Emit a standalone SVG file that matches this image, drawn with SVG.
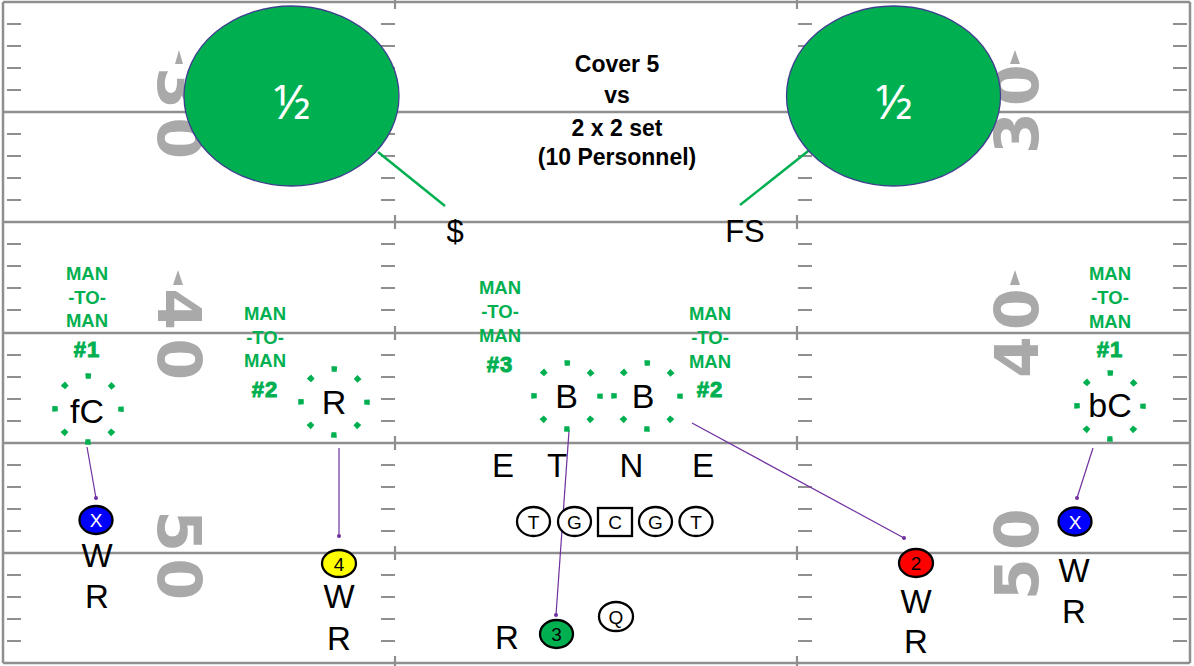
<svg xmlns="http://www.w3.org/2000/svg" xmlns:xlink="http://www.w3.org/1999/xlink" width="1194" height="666" viewBox="0 0 1194 666">
<style>
.fld{stroke:#8f8f8f;stroke-width:2.5;fill:none}
.hash{stroke:#8f8f8f;stroke-width:2.2;fill:none}
.num{font-family:"DejaVu Sans",sans-serif;font-weight:bold;font-size:60px;fill:#a9a9a9;text-anchor:middle}
.arw{fill:#a9a9a9}
.zone{fill:#00b050;stroke:#3f3f8f;stroke-width:1.3}
.half{font-family:"Noto Sans","Open Sans",sans-serif;font-size:48px;fill:#fff;text-anchor:middle}
.title{font-family:"Liberation Sans",Arial,sans-serif;font-weight:bold;font-size:23px;fill:#000;text-anchor:middle}
.lbl{font-family:"Liberation Sans",Arial,sans-serif;font-size:33px;fill:#000;text-anchor:middle}
.man{font-family:"Liberation Sans",Arial,sans-serif;font-weight:bold;font-size:18.5px;fill:#00b050;text-anchor:middle}
.hsh{font-family:"Liberation Sans",Arial,sans-serif;font-weight:bold;font-size:22px;fill:#00b050;stroke:#00b050;stroke-width:1;letter-spacing:1px;text-anchor:middle}
.dot{fill:none;stroke:#00b050;stroke-width:5.5;stroke-dasharray:5.5 20.42;stroke-dashoffset:2.75}
.pl{stroke:#000;stroke-width:2.3}
.pt{font-family:"Liberation Sans",Arial,sans-serif;font-size:19px;text-anchor:middle}
.con{stroke:#7030a0;stroke-width:1.2;fill:none;marker-end:url(#dotm)}
.gl{stroke:#00b050;stroke-width:2.5}
</style>
<defs>
<path id="hcol" d="M0 24H14M0 46H14M0 68H14M0 90H14M0 134H14M0 156H14M0 178H14M0 200H14M0 244H14M0 266H14M0 288H14M0 310H14M0 355H14M0 377H14M0 399H14M0 421H14M0 465H14M0 487H14M0 509H14M0 531H14M0 575H14M0 597H14M0 619H14M0 641H14"/>
<marker id="dotm" viewBox="0 0 6 6" refX="3" refY="3" markerWidth="4" markerHeight="4" markerUnits="userSpaceOnUse"><circle cx="3" cy="3" r="3" fill="#7030a0"/></marker>
</defs>
<rect width="1194" height="666" fill="#fff"/>
<g id="field">
<path class="fld" d="M3 2H1190M3 112H1190M3 222H1190M3 333H1190M3 443H1190M3 553H1190M3 663H1190M3 2V663M1190 2V663"/>
<path class="hash" d="M395 0V9M395 105V119M395 215V229M395 326V340M395 436V450M395 546V560M395 656V666M797 0V9M797 105V119M797 215V229M797 326V340M797 436V450M797 546V560M797 656V666"/>
<use href="#hcol" xlink:href="#hcol" x="7" class="hash"/>
<use href="#hcol" xlink:href="#hcol" x="381" class="hash"/>
<use href="#hcol" xlink:href="#hcol" x="798" class="hash"/>
<use href="#hcol" xlink:href="#hcol" x="1173" class="hash"/>
</g>
<g id="yard-numbers">
<g transform="translate(158,113) rotate(90)"><text class="num" x="-25">3</text><text class="num" x="25">0</text></g>
<g transform="translate(158,334) rotate(90)"><text class="num" x="-25">4</text><text class="num" x="25">0</text></g>
<g transform="translate(158,555) rotate(90)"><text class="num" x="-24">5</text><text class="num" x="24">0</text></g>
<g transform="translate(1038,109) rotate(-90)"><text class="num" x="-24">3</text><text class="num" x="24">0</text></g>
<g transform="translate(1038,333) rotate(-90)"><text class="num" x="-24">4</text><text class="num" x="24">0</text></g>
<g transform="translate(1038,554) rotate(-90)"><text class="num" x="-25">5</text><text class="num" x="25">0</text></g>
<polygon class="arw" points="179,50 183,64 175,64"/>
<polygon class="arw" points="178,270 183,285 173,285"/>
<polygon class="arw" points="1015,50 1020,64 1010,64"/>
<polygon class="arw" points="1015,270 1020,285 1010,285"/>
</g>
<g id="connectors">
<line class="gl" x1="378" y1="152" x2="445" y2="206"/>
<line class="gl" x1="740" y1="205" x2="812" y2="148"/>
<line class="con" x1="87" y1="447" x2="96" y2="498"/>
<line class="con" x1="339" y1="448" x2="339" y2="536"/>
<line class="con" x1="569" y1="431" x2="556" y2="615"/>
<line class="con" x1="692" y1="423" x2="904" y2="538"/>
<line class="con" x1="1093" y1="448" x2="1077" y2="498"/>
</g>
<g id="zone-left"><ellipse class="zone" cx="291.5" cy="96" rx="107.5" ry="90"/><text class="half" x="292" y="119">½</text></g>
<g id="zone-right"><ellipse class="zone" cx="893.5" cy="96" rx="107" ry="90"/><text class="half" x="894" y="119">½</text></g>
<g id="title">
<text class="title" x="617" y="72">Cover 5</text>
<text class="title" x="617" y="103">vs</text>
<text class="title" x="617" y="136">2 x 2 set</text>
<text class="title" x="617" y="165">(10 Personnel)</text>
</g>
<g id="safety-money"><text class="lbl" x="455" y="242" style="font-size:31px">$</text></g>
<g id="safety-fs"><text class="lbl" x="745" y="242" style="font-size:31px">FS</text></g>
<g id="man-1-left"><text class="man" x="87" y="280">MAN</text><text class="man" x="87" y="303.5">-TO-</text><text class="man" x="87" y="327">MAN</text><text class="hsh" x="87" y="357">#1</text></g>
<g id="man-2-left"><text class="man" x="265" y="320">MAN</text><text class="man" x="265" y="344">-TO-</text><text class="man" x="265" y="367">MAN</text><text class="hsh" x="265" y="397">#2</text></g>
<g id="man-3-center"><text class="man" x="500" y="294">MAN</text><text class="man" x="500" y="318">-TO-</text><text class="man" x="500" y="342">MAN</text><text class="hsh" x="500" y="372">#3</text></g>
<g id="man-2-right"><text class="man" x="710" y="320">MAN</text><text class="man" x="710" y="344">-TO-</text><text class="man" x="710" y="368">MAN</text><text class="hsh" x="710" y="397">#2</text></g>
<g id="man-1-right"><text class="man" x="1110" y="280">MAN</text><text class="man" x="1110" y="304">-TO-</text><text class="man" x="1110" y="328">MAN</text><text class="hsh" x="1110" y="357">#1</text></g>
<g id="def-fC"><circle class="dot" cx="88" cy="409" r="33"/><text class="lbl" x="87" y="423" style="font-size:34px">fC</text></g>
<g id="def-R"><circle class="dot" cx="334" cy="402" r="33"/><text class="lbl" x="334" y="414" style="font-size:34px">R</text></g>
<g id="def-B1"><circle class="dot" cx="567" cy="396" r="33"/><text class="lbl" x="566.5" y="408" style="font-size:34px">B</text></g>
<g id="def-B2"><circle class="dot" cx="647" cy="396" r="33"/><text class="lbl" x="643" y="408" style="font-size:34px">B</text></g>
<g id="def-bC"><circle class="dot" cx="1110" cy="406" r="33"/><text class="lbl" x="1110" y="417" style="font-size:34px">bC</text></g>
<g id="dline"><text class="lbl" x="503" y="477">E</text><text class="lbl" x="557" y="477">T</text><text class="lbl" x="631.5" y="477">N</text><text class="lbl" x="703" y="477">E</text></g>
<g id="oline">
<ellipse class="pl" cx="533.5" cy="521.5" rx="16.5" ry="14.5" fill="#fff"/><text class="pt" x="533.5" y="528.5">T</text>
<ellipse class="pl" cx="574.5" cy="521.5" rx="16.5" ry="14.5" fill="#fff"/><text class="pt" x="574.5" y="528.5">G</text>
<rect class="pl" x="598" y="508" width="34" height="28" fill="#fff"/><text class="pt" x="615" y="528.5">C</text>
<ellipse class="pl" cx="655.5" cy="521.5" rx="16.5" ry="14.5" fill="#fff"/><text class="pt" x="655.5" y="528.5">G</text>
<ellipse class="pl" cx="696" cy="521.5" rx="16.5" ry="14.5" fill="#fff"/><text class="pt" x="696" y="528.5">T</text>
</g>
<g id="qb"><ellipse class="pl" cx="616" cy="616.5" rx="17" ry="14.5" fill="#fff"/><text class="pt" x="616" y="623.5">Q</text></g>
<g id="wr-x-left"><ellipse class="pl" cx="96" cy="520" rx="16.5" ry="14" fill="#0000ff"/><text class="pt" x="96" y="527" fill="#fff">X</text><text class="lbl" x="97" y="567">W</text><text class="lbl" x="97" y="608">R</text></g>
<g id="wr-4"><ellipse class="pl" cx="339" cy="563.5" rx="17" ry="13.5" fill="#ffff00"/><text class="pt" x="339" y="570.5">4</text><text class="lbl" x="339" y="608">W</text><text class="lbl" x="339" y="650">R</text></g>
<g id="rb-3"><ellipse class="pl" cx="556.5" cy="634" rx="16.5" ry="14" fill="#00b050"/><text class="pt" x="556.5" y="641">3</text><text class="lbl" x="507" y="649">R</text></g>
<g id="wr-2"><ellipse class="pl" cx="916" cy="563" rx="17" ry="14" fill="#ff0000"/><text class="pt" x="916" y="570">2</text><text class="lbl" x="916" y="613">W</text><text class="lbl" x="916" y="653">R</text></g>
<g id="wr-x-right"><ellipse class="pl" cx="1075" cy="521.5" rx="16.5" ry="14" fill="#0000ff"/><text class="pt" x="1075" y="528.5" fill="#fff">X</text><text class="lbl" x="1074" y="582">W</text><text class="lbl" x="1074" y="623">R</text></g>
</svg>
